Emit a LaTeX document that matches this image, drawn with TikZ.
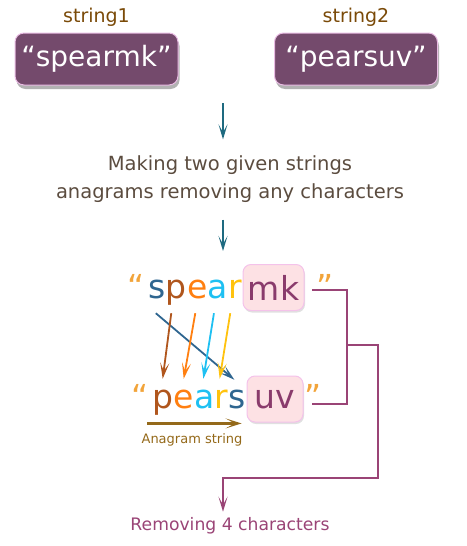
\documentclass[tikz,border=0pt]{standalone}
\usepackage{fontspec}
\setmainfont{DejaVu Sans}
\usetikzlibrary{positioning, shadows, arrows.meta}

\definecolor{boxfill}{HTML}{744A6C}
\definecolor{boxline}{HTML}{E9BCE3}
\definecolor{lblbrown}{HTML}{7A4A08}
\definecolor{flowteal}{HTML}{1E6A80}
\definecolor{tasktext}{HTML}{5B4C3F}
\definecolor{qorange}{HTML}{F2A43A}
\definecolor{lblue}{HTML}{2F6690}
\definecolor{lbrown}{HTML}{B0561D}
\definecolor{lorange}{HTML}{FF7F10}
\definecolor{lcyan}{HTML}{1EC0F2}
\definecolor{lyellow}{HTML}{FFC20E}
\definecolor{cutfill}{HTML}{FDE1E4}
\definecolor{cutline}{HTML}{F4C2EA}
\definecolor{cuttext}{HTML}{8A3B6C}
\definecolor{brkcolor}{HTML}{9A4476}
\definecolor{anagbrown}{HTML}{94691A}

\begin{document}
\begin{tikzpicture}[
    x=1pt, y=-1pt,
    strbox/.style={rectangle, rounded corners=9pt, draw=boxline, line width=1pt, fill=boxfill, text=white, minimum width=163pt, minimum height=52pt, font=\fontsize{28}{30}\selectfont, drop shadow={black, opacity=0.3, shadow xshift=1.5pt, shadow yshift=-4pt}},
    strlabel/.style={inner sep=0pt, text=lblbrown, font=\fontsize{19}{22}\selectfont},
    task/.style={inner sep=0pt, align=center, text=tasktext, font=\fontsize{19.5}{28}\selectfont},
    chr/.style={inner sep=0pt, text height=18pt, text depth=7pt, font=\fontsize{33}{36}\selectfont},
    cut/.style={rectangle, rounded corners=8pt, draw=cutline, line width=1pt, fill=cutfill, text=cuttext, inner sep=0pt, minimum height=46pt, font=\fontsize{33}{36}\selectfont, drop shadow={black, opacity=0.12, shadow xshift=1pt, shadow yshift=-2pt}},
    flow/.style={flowteal, line width=2pt, -{Stealth[length=15pt, width=9pt, inset=8pt]}},
    link/.style={line width=1.8pt, -{Stealth[length=16pt, width=9pt, inset=8pt]}},
    anag/.style={anagbrown, line width=2.2pt, -{Stealth[length=16pt, width=10pt, inset=9pt]}},
    bracket/.style={brkcolor, line width=2.2pt},
    result/.style={inner sep=0pt, text=brkcolor, font=\fontsize{17.2}{20}\selectfont}
]
\useasboundingbox (0,0) rectangle (466,546);

% the two given strings
\node[strbox] (s1) at (96.5,59) {“spearmk”};
\node[strbox] (s2) at (356,59) {“pearsuv”};
\node[strlabel, above=6pt of s1] (l1) {string1};
\node[strlabel, above=6pt of s2] (l2) {string2};

\coordinate (split) at (223,103);
\node[task] (task) at (230,179) {Making two given strings\\anagrams removing any characters};
\coordinate (rowtop) at (223,251);

\draw[flow, shorten >=16pt] (split) -- ([xshift=-7pt]task.north);
\draw[flow, shorten <=17pt] ([xshift=-7pt]task.south) -- (rowtop);

% top row: spear + mk
\node[chr, text=lblue, anchor=base west] (ts) at (148,298) {s};
\node[chr, text=lbrown, right=0pt of ts] (tp) {p};
\node[chr, text=lorange, right=0pt of tp] (te) {e};
\node[chr, text=lcyan, right=0pt of te] (ta) {a};
\node[chr, text=lyellow, right=0pt of ta] (tr) {r};
\node[chr, text=qorange, left=3pt of ts] (tq1) {“};
\node[cut, minimum width=61pt] (mk) at (273.5,287.5) {mk};
\node[chr, text=qorange, anchor=base west] (tq2) at (316,298) {”};

% bottom row: pears + uv
\node[chr, text=lbrown, anchor=base west] (bp) at (152,408) {p};
\node[chr, text=lorange, right=0pt of bp] (be) {e};
\node[chr, text=lcyan, right=0pt of be] (ba) {a};
\node[chr, text=lyellow, right=0pt of ba] (br) {r};
\node[chr, text=lblue, right=0pt of br] (bs) {s};
\node[chr, text=qorange, left=3pt of bp] (bq1) {“};
\node[cut, minimum width=56pt] (uv) at (275,399) {uv};
\node[chr, text=qorange, anchor=base west] (bq2) at (304,408) {”};

% letter moves
\draw[link, lblue] ([xshift=-1pt, yshift=-8pt]ts.south) -- ([xshift=-3pt, yshift=10pt]bs.north);
\draw[link, lbrown] ([xshift=-5pt, yshift=-8pt]tp.south) -- ([yshift=11pt]bp.north);
\draw[link, lorange] ([xshift=-2pt, yshift=-8pt]te.south) -- ([yshift=11pt]be.north);
\draw[link, lcyan] ([xshift=-4pt, yshift=-8pt]ta.south) -- ([xshift=-1pt, yshift=11pt]ba.north);
\draw[link, lyellow] ([xshift=-5pt, yshift=-8pt]tr.south) -- ([xshift=-2pt, yshift=11pt]br.north);

\node[strlabel, anchor=base, text=anagbrown, font=\fontsize{13}{15}\selectfont] (ana) at (192,443) {Anagram string};
\draw[anag] ([xshift=6pt, yshift=9.5pt]ana.north west) -- ([xshift=-1pt, yshift=9.5pt]ana.north east);

% removed characters
\coordinate (brk) at (347,345);
\coordinate (turn) at (378,478);
\node[result, anchor=base] (rm) at (230,530) {Removing 4 characters};

\draw[bracket] ([xshift=-4pt, yshift=15pt]tq2.south west) -| (brk) |- ([xshift=8pt, yshift=11pt]bq2.south west);
\draw[bracket, -{Stealth[length=15pt, width=9pt, inset=8pt]}, shorten >=5pt] (brk) -| (turn) -| ([xshift=-7pt]rm.north);
\end{tikzpicture}
\end{document}
